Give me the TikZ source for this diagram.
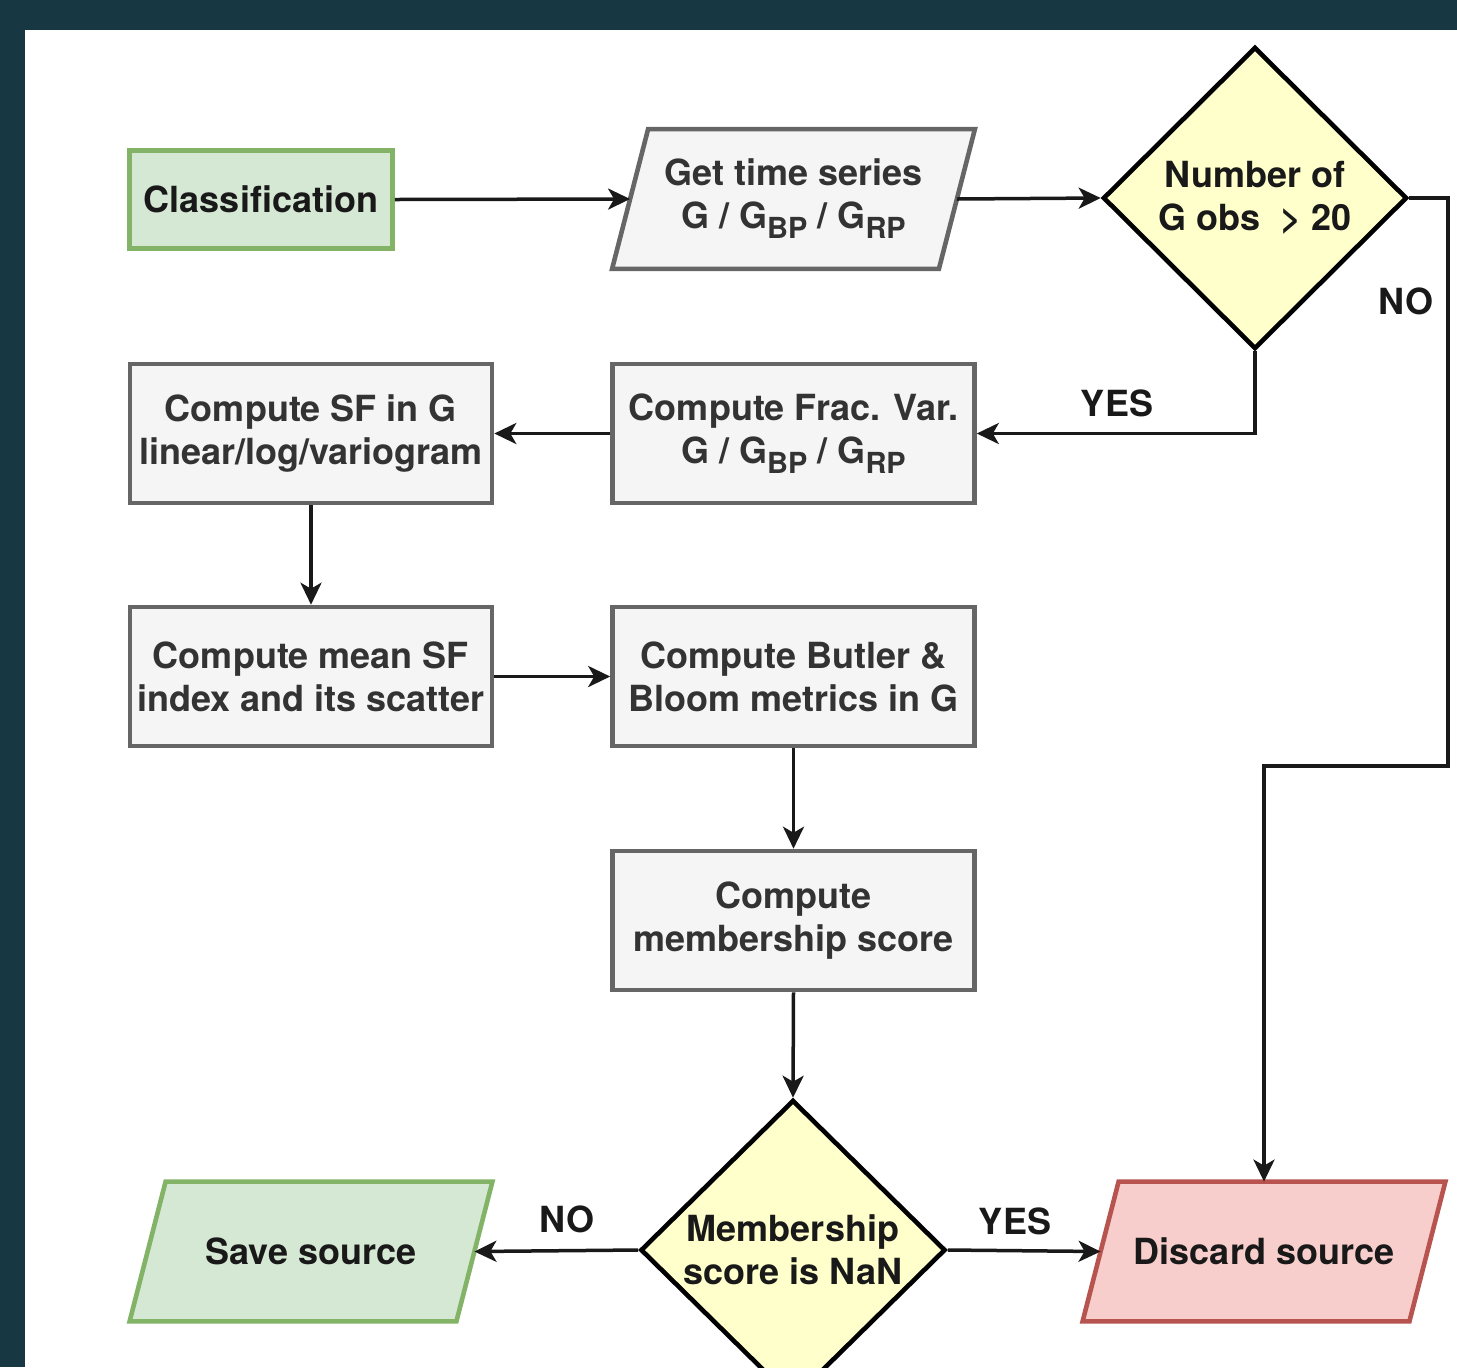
\documentclass[tikz,border=0pt]{standalone}
\usepackage{fontspec}
\setmainfont{TeX Gyre Heros}
\usetikzlibrary{shapes.geometric,arrows.meta}

\definecolor{bgdark}{HTML}{173843}
\definecolor{grayfill}{HTML}{F5F5F5}
\definecolor{grayline}{HTML}{666666}
\definecolor{graytext}{HTML}{333333}
\definecolor{greenfill}{HTML}{D5E8D4}
\definecolor{greenline}{HTML}{82B366}
\definecolor{redfill}{HTML}{F8CECC}
\definecolor{redline}{HTML}{B85450}
\definecolor{yelfill}{HTML}{FFFFCC}

% lowered band subscript (BP / RP)
\newcommand\gsub[1]{\raisebox{-0.28em}{\fontsize{14.5}{14.5}\selectfont #1}}
% horizontal offset of the slanted parallelogram sides
\newcommand\slantx{18pt}
\newcommand\halfslant{9pt}
% outline of a parallelogram drawn round a named (invisible) node
\newcommand\iooutline[3]{%
  \draw[line width=2.3pt, draw=#2, fill=#3, line join=miter]
    ([xshift=\slantx]#1.north west) -- (#1.north east)
    -- ([xshift=-\slantx]#1.south east) -- (#1.south west) -- cycle;}

\tikzset{
  base/.style={font=\fontsize{18}{21.5}\selectfont\bfseries, align=center, inner sep=0pt},
  procbox/.style={base, rectangle, draw=grayline, fill=grayfill, text=graytext,
    line width=2.3pt, minimum width=181pt, minimum height=69.5pt},
  startbox/.style={base, rectangle, draw=greenline, fill=greenfill, text=black!90,
    line width=2.3pt, minimum width=131.5pt, minimum height=49pt},
  iobox/.style={base, rectangle, minimum width=181pt, minimum height=69.5pt},
  decision/.style={base, diamond, draw=black, fill=yelfill, text=black!90,
    line width=2.3pt},
  flow/.style={line width=1.75pt, black!90,
    -{Stealth[length=11pt,width=10.5pt,inset=3pt]}},
  lbl/.style={base, text=black!90}
}

\begin{document}
\begin{tikzpicture}[x=0.5pt,y=-0.5pt]
\useasboundingbox (0,0) rectangle (1457,1367);
\begin{scope}
\clip (0,0) rectangle (1457,1367);
% backdrop and white panel
\fill[bgdark] (0,0) rectangle (1457,1367);
\fill[white] (25,30) rectangle (1457,1367);

% input / output parallelograms: frames first, texts on top
\path node[iobox] (ts) at (793.5,199) {}
      node[iobox] (save) at (311,1251.5) {}
      node[iobox] (disc) at (1264,1251.5) {};
\iooutline{ts}{grayline}{grayfill}
\iooutline{save}{greenline}{greenfill}
\iooutline{disc}{redline}{redfill}
\node[base, text=graytext] (tstext) at (ts.center) {Get time series\\G / G\gsub{BP} / G\gsub{RP}};
\node[base, text=black!90] (savetext) at (save.center) {Save source};
\node[base, text=black!90] (disctext) at (disc.center) {Discard source};

% process and decision nodes
\node[startbox] (cls) at (261,199.5) {Classification};
\node[decision, minimum width=152pt, minimum height=151pt] (dec1) at (1255,198)
  {Number of\\G obs\ \ > 20};

\node[procbox] (frac) at (793.5,433.5) {Compute Frac. Var.\\G / G\gsub{BP} / G\gsub{RP}};
\node[procbox] (sf) at (311,433.5) {Compute SF in G\\linear/log/variogram};
\node[procbox] (mean) at (311,676.5) {Compute mean SF\\index and its scatter};
\node[procbox] (butler) at (793.5,676.5) {Compute Butler \&\\Bloom metrics in G};
\node[procbox] (memb) at (793.5,920.5) {Compute\\membership score};

\node[decision, minimum width=152.5pt, minimum height=150pt] (dec2) at (793,1250)
  {Membership\\score is NaN};

% connectors
\coordinate (nobend) at (1448,766);
\draw[flow] (cls.east) -- ([xshift=\halfslant]ts.west);
\draw[flow] ([xshift=-\halfslant]ts.east) -- (dec1.west);
\draw[flow] (dec1.south) |- (frac.east);
\draw[flow] (dec1.east) -| (nobend) -| (disc.north);
\draw[flow] (frac.west) -- (sf.east);
\draw[flow] (sf.south) -- (mean.north);
\draw[flow] (mean.east) -- (butler.west);
\draw[flow] (butler.south) -- (memb.north);
\draw[flow] (memb.south) -- (dec2.north);
\draw[flow] (dec2.west) -- ([xshift=-\halfslant]save.east);
\draw[flow] (dec2.east) -- ([xshift=\halfslant]disc.west);

% branch labels
\node[lbl] (yes1) at (1117,403) {YES};
\node[lbl] (no1) at (1406,301) {NO};
\node[lbl] (no2) at (567,1219) {NO};
\node[lbl] (yes2) at (1015,1221) {YES};
\end{scope}
\end{tikzpicture}
\end{document}
